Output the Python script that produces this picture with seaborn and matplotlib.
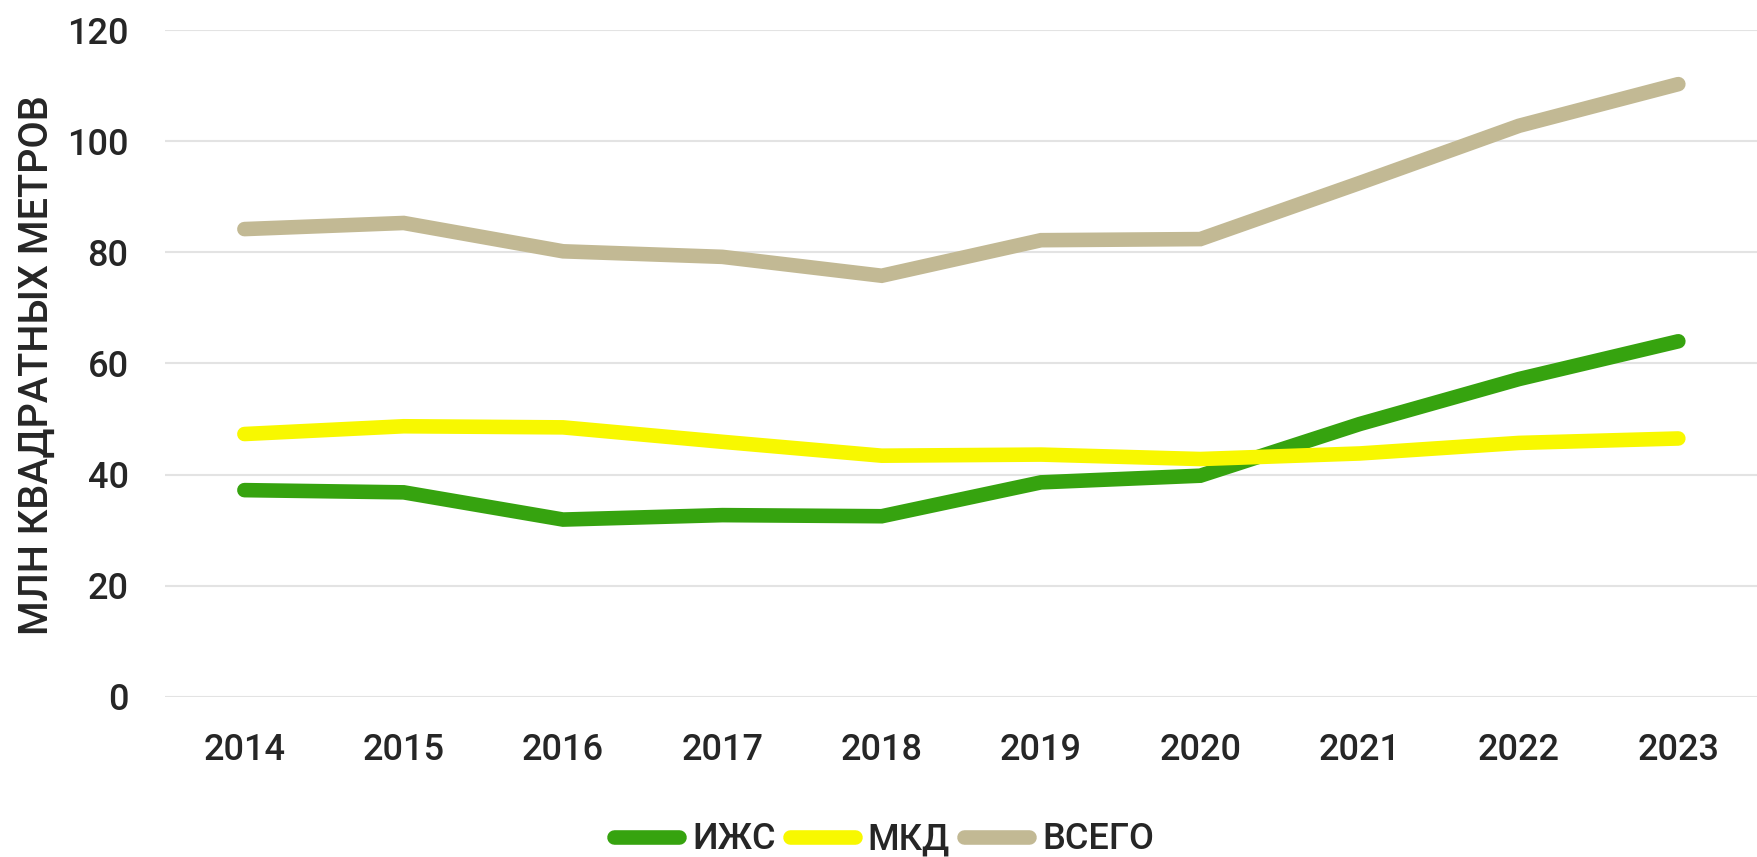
import pandas as pd
import matplotlib
matplotlib.use("Agg")
import matplotlib.pyplot as plt
import seaborn as sns

# values, million m2
years = [2014, 2015, 2016, 2017, 2018, 2019, 2020, 2021, 2022, 2023]
izhs = [37.2, 36.8, 31.9, 32.7, 32.5, 38.6, 39.8, 49.1, 57.2, 64.0]
mkd = [47.3, 48.7, 48.5, 45.9, 43.4, 43.6, 42.8, 43.8, 45.7, 46.5]
total = [84.2, 85.3, 80.2, 79.2, 75.8, 82.2, 82.4, 92.5, 102.8, 110.3]
series_names = ["ИЖС", "МКД", "ВСЕГО"]
colors = ["#36A30F", "#F8F800", "#C2B994"]
y_ticks = [0, 20, 40, 60, 80, 100, 120]

df = pd.concat([
    pd.DataFrame({"year": years, "value": vals, "series": name})
    for name, vals in zip(series_names, [izhs, mkd, total])
])

sns.set_theme(style="white")
plt.rcParams["font.family"] = ["Roboto", "DejaVu Sans"]
plt.rcParams["font.weight"] = "medium"
plt.rcParams["text.color"] = "#262626"

fig = plt.figure(figsize=(17.58, 8.57), dpi=100)
ax = fig.add_axes([0.0937, 0.187, 0.9063, 0.7777])

lw = 10.5
sns.lineplot(data=df, x="year", y="value", hue="series", hue_order=series_names,
             palette=dict(zip(series_names, colors)), linewidth=lw,
             sort=False, ax=ax, legend=False, solid_capstyle="round",
             solid_joinstyle="miter")

ax.set_xlim(years[0] - 0.5, years[-1] + 0.5)
ax.set_ylim(0, 120)
ax.set_yticks(y_ticks)
ax.set_xticks(years)
ax.set_xticklabels([str(y) for y in years])
ax.yaxis.grid(True, color="#E3E3E3", linewidth=1.5)
ax.xaxis.grid(False)
for s in ["top", "right", "left", "bottom"]:
    ax.spines[s].set_visible(False)
ax.tick_params(axis="both", length=0, labelsize=26, colors="#262626")
for lab in ax.get_xticklabels() + ax.get_yticklabels():
    lab.set_fontweight("medium")
ax.tick_params(axis="x", pad=26)
ax.tick_params(axis="y", pad=26)
ax.set_xlabel("")
ax.set_ylabel("МЛН КВАДРАТНЫХ МЕТРОВ", fontsize=28.5, color="#262626",
              fontweight="medium")
ax.yaxis.set_label_coords(-0.068, 0.497)

handles = [plt.Line2D([0], [0], color=c, linewidth=lw, solid_capstyle="round")
           for c in colors]
fig.legend(handles, series_names, loc="center", bbox_to_anchor=(0.503, 0.02),
           ncol=3, frameon=False, handlelength=1.8,
           handletextpad=0.35, columnspacing=0.4,
           prop={"size": 26, "weight": "medium"})

fig.savefig("out.png", dpi=100)
